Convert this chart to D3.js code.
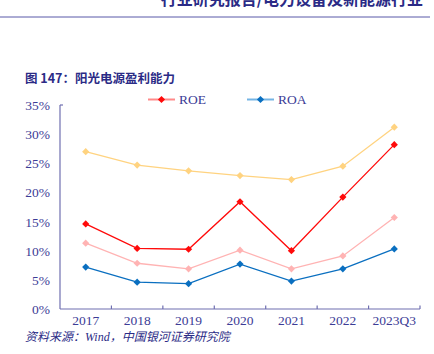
<!DOCTYPE html>
<html>
<head>
<meta charset="utf-8">
<script src="https://cdn.jsdelivr.net/npm/d3@7"></script>
<style>
  body { margin: 0; background: #fff; }
  svg { display: block; }
</style>
</head>
<body>
<div id="chart"></div>
<script>
// Chart data
const years = ['2017', '2018', '2019', '2020', '2021', '2022', '2023Q3'];
const roe = [14.6, 10.4, 10.25, 18.4, 10.0, 19.2, 28.2];
const roa = [7.2, 4.6, 4.35, 7.7, 4.8, 6.9, 10.3];
const grossMargin = [27.0, 24.7, 23.7, 22.9, 22.2, 24.5, 31.2];
const netMargin = [11.3, 7.85, 6.9, 10.1, 6.9, 9.1, 15.7];
const yTicks = [0, 5, 10, 15, 20, 25, 30, 35];

const size = { width: 434, height: 354 };
const margin = { top: 105, right: 14, bottom: 45, left: 60 };
const navy = '#2b2b86';
const tickColor = '#3c3c96';
const axisColor = '#6f6fb0';

const svg = d3.select('#chart').append('svg')
  .attr('width', size.width)
  .attr('height', size.height);

/*
   Page header + title
 */
svg.append('text')
  .text('行业研究报告/电力设备及新能源行业')
  .attr('x', 423)
  .attr('y', 5)
  .attr('text-anchor', 'end')
  .attr('font-family', '"Noto Sans CJK SC"')
  .attr('font-weight', 'bold')
  .attr('font-size', '16px')
  .attr('fill', navy);

svg.append('line')
  .attr('x1', 0).attr('x2', 430)
  .attr('y1', 17).attr('y2', 17)
  .attr('stroke', '#5858a8')
  .attr('stroke-width', 1);

svg.append('text')
  .text('图 147：阳光电源盈利能力')
  .attr('x', 25)
  .attr('y', 83)
  .attr('font-family', '"Noto Sans CJK SC"')
  .attr('font-weight', 'bold')
  .attr('font-size', '12.5px')
  .attr('fill', navy);

svg.append('text')
  .text('资料来源：Wind，中国银河证券研究院')
  .attr('x', 25)
  .attr('y', 341)
  .attr('font-family', '"Liberation Serif", "Noto Sans CJK SC"')
  .attr('font-style', 'italic')
  .attr('font-size', '12px')
  .attr('fill', navy);

/*
   Scales
 */
const x = d3.scaleBand()
  .domain(years)
  .range([margin.left, size.width - margin.right]);

const y = d3.scaleLinear()
  .domain([0, 35])
  .range([size.height - margin.bottom, margin.top]);

const cx = (d, i) => x(years[i]) + x.bandwidth() / 2;

// Axes
const axisG = svg.append('g').attr('stroke', axisColor).attr('stroke-width', 1.2);
axisG.append('line')
  .attr('x1', margin.left).attr('x2', margin.left)
  .attr('y1', y(35)).attr('y2', y(0));
axisG.append('line')
  .attr('x1', margin.left).attr('x2', margin.left + 3)
  .attr('y1', y(35)).attr('y2', y(35));
axisG.append('line')
  .attr('x1', margin.left).attr('x2', x.range()[1])
  .attr('y1', y(0)).attr('y2', y(0));

// tick marks between categories, pointing up
const boundaries = years.map((d) => x(d)).concat([x.range()[1]]);
axisG.selectAll('.xtick')
  .data(boundaries.slice(1))
  .enter()
  .append('line')
  .attr('x1', (d) => d).attr('x2', (d) => d)
  .attr('y1', y(0)).attr('y2', y(0) - 3.5);

svg.append('g')
  .selectAll('text')
  .data(yTicks)
  .enter()
  .append('text')
  .text((d) => `${d}%`)
  .attr('x', 50)
  .attr('y', (d) => y(d) + 5)
  .attr('text-anchor', 'end')
  .attr('font-family', '"Liberation Serif"')
  .attr('font-size', '13.5px')
  .attr('fill', tickColor);

svg.append('g')
  .selectAll('text')
  .data(years)
  .enter()
  .append('text')
  .text((d) => d)
  .attr('x', (d) => x(d) + x.bandwidth() / 2)
  .attr('y', 325)
  .attr('text-anchor', 'middle')
  .attr('font-family', '"Liberation Serif"')
  .attr('font-size', '13.5px')
  .attr('fill', tickColor);

/*
   Lines
 */
const series = [
  { name: 'gross', values: grossMargin, color: '#ffd380' },
  { name: 'net', values: netMargin, color: '#ffb3b3' },
  { name: 'ROA', values: roa, color: '#0a6fc0' },
  { name: 'ROE', values: roe, color: '#ff0a0a' },
];

const line = d3.line()
  .x(cx)
  .y((d) => y(d));

const diamond = d3.symbol().type(d3.symbolSquare).size(26);

series.forEach((s) => {
  const g = svg.append('g');
  g.append('path')
    .datum(s.values)
    .attr('d', line)
    .attr('fill', 'none')
    .attr('stroke', s.color)
    .attr('stroke-width', 1.3);

  g.selectAll('path.pt')
    .data(s.values)
    .enter()
    .append('path')
    .attr('class', 'pt')
    .attr('d', diamond)
    .attr('transform', (d, i) => `translate(${cx(d, i)},${y(d)}) rotate(45)`)
    .attr('fill', s.color);
});

// Legend
const legend = [
  { name: 'ROE', x: 148, line: '#ff8a8a', color: '#ff0a0a' },
  { name: 'ROA', x: 247, line: '#74b4e4', color: '#0a6fc0' },
];
const lg = svg.append('g');
legend.forEach((l) => {
  lg.append('line')
    .attr('x1', l.x).attr('x2', l.x + 27)
    .attr('y1', 99.5).attr('y2', 99.5)
    .attr('stroke', l.line)
    .attr('stroke-width', 2);
  lg.append('path')
    .attr('d', diamond)
    .attr('transform', `translate(${l.x + 13.5},99.5) rotate(45)`)
    .attr('fill', l.color);
  lg.append('text')
    .text(l.name)
    .attr('x', l.x + 31)
    .attr('y', 104)
    .attr('font-family', '"Liberation Serif"')
    .attr('font-size', '13.5px')
    .attr('fill', tickColor);
});
</script>
</body>
</html>
